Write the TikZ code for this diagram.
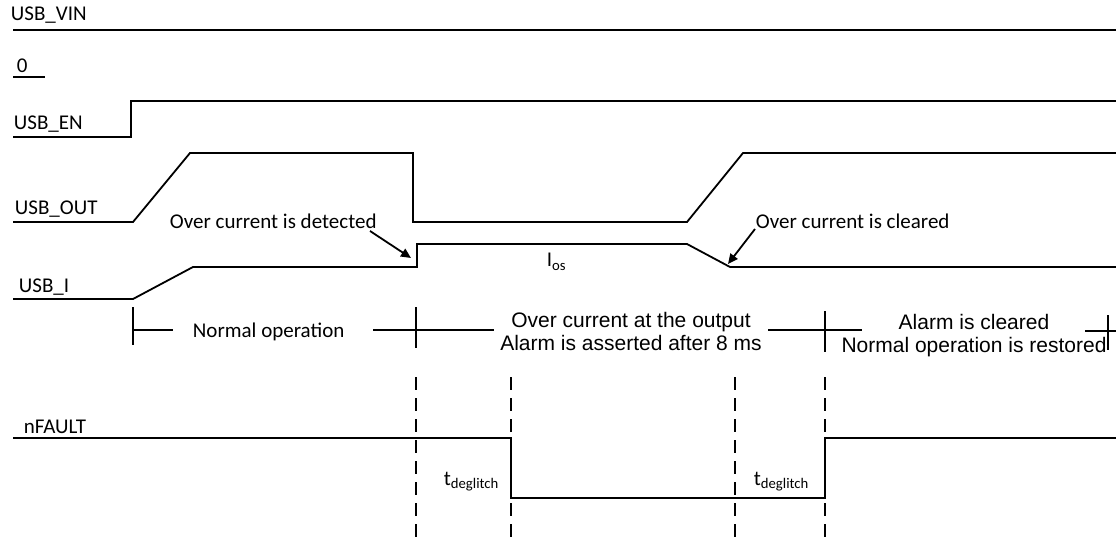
\documentclass[tikz,border=0pt]{standalone}
\usepackage{fontspec}
\setmainfont{Carlito}
\newfontfamily\arialfont{Liberation Sans}
\usetikzlibrary{arrows.meta}

\begin{document}
\begin{tikzpicture}[
                x=1pt,y=-1pt,
                line width=1.8pt,
                signame/.style={anchor=base west,inner sep=0pt,font=\fontsize{21}{24}\selectfont},
                phasetext/.style={anchor=base,inner sep=0pt,align=center,font=\arialfont\fontsize{21}{23}\selectfont},
                marker/.style={line width=1.5pt,dash pattern=on 13pt off 8pt}] %

\useasboundingbox (0,0) rectangle (1116,537);

% signals

                    % 1
                    \node[signame] (VIN) at (10,21) {USB\_VIN};
                    \draw (13,30) -- (1116,30);

                    % 2
                    \node[signame] (ZERO) at (16,73) {0};
                    \draw (13,77) -- (45,77);

                    % 3
                    \node[signame] (EN) at (13,130) {USB\_EN};
                    \draw (13,137) -- (131,137) -- (131,101) -- (1116,101);

                    % 4
                    \node[signame] (OUT) at (14,215) {USB\_OUT};
                    \draw (13,222) -- (133,222) -- (190,153) -- (413,153) -- (413,222) -- (687,222) -- (743,153) -- (1116,153);

                    % 5
                    \node[signame] (CUR) at (18,293) {USB\_I};
                    \draw (13,299) -- (133,299) -- (193,267) -- (417,267) -- (417,244) -- (687,244) -- (730,267) -- (1116,267);
                    \node[signame] (IOS) at (546,267) {I\textsubscript{os}};

                    % 6
                    \node[signame] (FAULT) at (23,433) {nFAULT};
                    \draw (13,438) -- (511,438) -- (511,498) -- (825,498) -- (825,438) -- (1116,438);


% events

                    \node[signame] (DETECT) at (169,229) {Over current is detected};
                    \coordinate (DETECTPT) at (411,258);
                    \path [-{Triangle[length=10pt,width=9pt]}] (370,231) edge (DETECTPT);

                    \node[signame] (CLEAR) at (755,229) {Over current is cleared};
                    \coordinate (CLEARPT) at (728,264);
                    \path [-{Triangle[length=10pt,width=9pt]}] (CLEAR.base west) edge (CLEARPT);


% phases

                    \draw (133,307) -- (133,345);
                    \draw (133,330) -- (173,330);
                    \node[signame] (NORMAL) at (192,337) {Normal operation};
                    \draw (373,330) -- (494,330);
                    \draw (416,307) -- (416,348);

                    \node[phasetext] (OVER) at (631,350) {Over current at the output\\Alarm is asserted after 8 ms};
                    \draw (768,330) -- (862,330);
                    \draw (825,311) -- (825,352);

                    \node[phasetext] (RESTORE) at (974,352) {Alarm is cleared\\Normal operation is restored};
                    \draw (1085,331) -- (1116,331);
                    \draw (1108,315) -- (1108,350);


% deglitch

                    \draw[marker] (416,377) -- (416,537);
                    \draw[marker] (511,377) -- (511,537);
                    \draw[marker] (735,377) -- (735,537);
                    \draw[marker] (825,377) -- (825,537);

                    \node[signame] (DGL1) at (443,485) {t\textsubscript{deglitch}};
                    \node[signame] (DGL2) at (753,485) {t\textsubscript{deglitch}};


%%%%%%%%%%%%%%%%%%%%%%%%%%%%%%%%%%%%%%%%%%%%%%%%%%%%%%%%%%%%%%%%%%%%%%%%%%%%%%%%%%%%


\end{tikzpicture}
\end{document}
